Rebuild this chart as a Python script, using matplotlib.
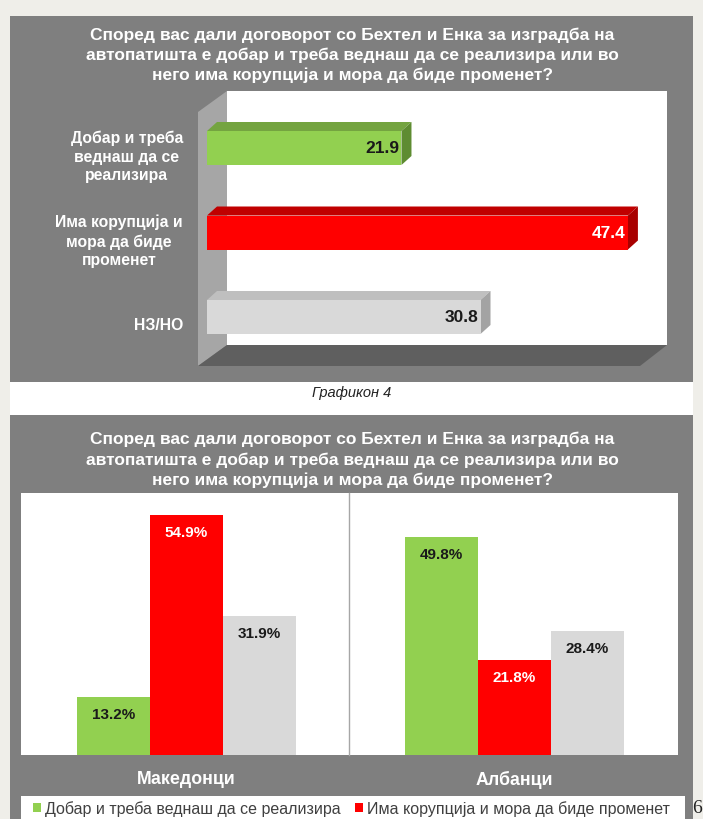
import matplotlib
matplotlib.use('Agg')
import matplotlib.pyplot as plt
from matplotlib.patches import Rectangle, Polygon
import matplotlib.transforms as mtrans

plt.rcParams['font.family'] = ['Liberation Sans', 'DejaVu Sans']

# ---------------- data ----------------
title_lines = ['Според вас дали договорот со Бехтел и Енка за изградба на',
               'автопатишта е добар и треба веднаш да се реализира или во',
               'него има корупција и мора да биде променет?']
top_labels = ['Добар и треба\nведнаш да се\nреализира',
              'Има корупција и\nмора да биде\nпроменет',
              'НЗ/НО']
top_values = [21.9, 47.4, 30.8]

groups = ['Македонци', 'Албанци']
series_names = ['Добар и треба веднаш да се реализира',
                'Има корупција и мора да биде променет',
                'НЗ/НО']
good_vals = [13.2, 49.8]
corrupt_vals = [54.9, 21.8]
dk_vals = [31.9, 28.4]
caption = 'Графикон 4'
page_no = '6'

# ---------------- styles ----------------
W, H = 703, 820
GREEN, RED, LGREY = '#92d050', '#ff0000', '#d9d9d9'
TOPS = ['#74a440', '#c00000', '#bfbfbf']
SIDES = ['#5e8c31', '#a80000', '#a3a3a3']
PANEL = '#7f7f7f'

fig = plt.figure(figsize=(W / 100, H / 100), dpi=100, facecolor='#efeee9')

bg = fig.add_axes([0, 0, 1, 1])
bg.set_xlim(0, W)
bg.set_ylim(H, 0)
bg.axis('off')
bg.add_patch(Rectangle((10, 17), 683, 366, color=PANEL, lw=0))
bg.add_patch(Rectangle((10, 383), 683, 33, color='white', lw=0))
bg.add_patch(Rectangle((10, 416), 683, 404, color=PANEL, lw=0))
# 3D walls for top chart
bg.add_patch(Rectangle((227, 92), 440, 254, color='white', lw=0))
bg.add_patch(Polygon([(198, 113), (227, 92), (227, 346), (198, 367)], color='#a6a6a6', lw=0))
bg.add_patch(Polygon([(198, 367), (227, 346), (667, 346), (640, 367)], color='#5f5f5f', lw=0))
# bottom plot area
bg.add_patch(Rectangle((21, 494), 657, 262, color='white', lw=0))
bg.plot([349, 349], [494, 756], color='#a6a6a6', lw=1)
bg.add_patch(Rectangle((21, 797), 664, 23, color='white', lw=0))

for k, ln in enumerate(title_lines):
    bg.text(352, 35.7 + 19.7 * k, ln, ha='center', va='center', fontsize=12.5,
            weight='bold', color='white')
    bg.text(352, 439.5 + 20.6 * k, ln, ha='center', va='center', fontsize=12.5,
            weight='bold', color='white')
bg.text(352, 393, caption, ha='center', va='center', fontsize=10.5, style='italic', color='#222222')
bg.text(697, 809, page_no, ha='center', va='center', fontsize=14,
        family=['Liberation Serif', 'DejaVu Serif'], color='#222222')

# ---------------- top chart ----------------
pxx = 8.88   # px per unit
pxy = 84.5   # px per category
ax1 = fig.add_axes([207 / W, 1 - 346 / H, (667 - 207) / W, (346 - 92) / H])
ax1.set_xlim(0, (667 - 207) / pxx)
ax1.set_ylim((346 - 149) / pxy, (92 - 149) / pxy)
ax1.axis('off')
bh = 34 / pxy
dx, dy = 10 / pxx, 9 / pxy
fronts = [GREEN, RED, LGREY]
ypos = list(range(len(top_values)))
ax1.barh(ypos, top_values, height=bh, color=fronts, zorder=3)
trans = mtrans.blended_transform_factory(ax1.transAxes, ax1.transData)
for i, v in enumerate(top_values):
    t = i - bh / 2
    b = i + bh / 2
    ax1.add_patch(Polygon([(0, t), (v, t), (v + dx, t - dy), (dx, t - dy)],
                          color=TOPS[i], lw=0, zorder=2, clip_on=False))
    ax1.add_patch(Polygon([(v, t), (v + dx, t - dy), (v + dx, b - dy), (v, b)],
                          color=SIDES[i], lw=0, zorder=2, clip_on=False))
    ax1.annotate(f'{v}', xy=(v, i), xytext=(-1.5, 0), textcoords='offset points',
                 ha='right', va='center', fontsize=12.5, weight='bold',
                 color='white' if i == 1 else '#1a1a1a', zorder=5)
    ax1.text((183 - 207) / 460, i + 8 / pxy, top_labels[i], transform=trans,
             ha='right', va='center', multialignment='center', fontsize=11.3,
             weight='bold', color='white', linespacing=1.3, clip_on=False)

# ---------------- bottom chart ----------------
pxg = 328
pxv = 4.37
ax2 = fig.add_axes([21 / W, 1 - 756 / H, 657 / W, 262 / H])
ax2.set_xlim((21 - 186.5) / pxg, (678 - 186.5) / pxg)
ax2.set_ylim(0, 262 / pxv)
ax2.patch.set_alpha(0)
for s in ax2.spines.values():
    s.set_visible(False)
bw = 73 / pxg
xs = list(range(len(groups)))
series = [good_vals, corrupt_vals, dk_vals]
cols = [GREEN, RED, LGREY]
conts = []
for j, vals in enumerate(series):
    xx = [x + (j - 1) * bw for x in xs]
    c = ax2.bar(xx, vals, width=bw, color=cols[j], label=series_names[j])
    conts.append(c)
    for x, v in zip(xx, vals):
        ax2.annotate(f'{v}%', xy=(x, v), xytext=(0, -17 * 0.72), textcoords='offset points',
                     ha='center', va='center', fontsize=11, weight='bold',
                     color='white' if j == 1 else '#1a1a1a')
ax2.set_yticks([])
ax2.set_xticks(xs)
ax2.set_xticklabels(groups, fontsize=12.8, weight='bold', color='white')
ax2.tick_params(axis='x', length=0, pad=11)

fig.legend(conts[:2], series_names[:2], loc='center left',
           bbox_to_anchor=(33 / W, 1 - 809 / H), ncol=2, frameon=False,
           fontsize=11.5, handlelength=0.5, handleheight=0.5, handletextpad=0.25,
           columnspacing=0.9, labelcolor='#404040', borderpad=0, borderaxespad=0)

fig.savefig('out.png', dpi=100, facecolor=fig.get_facecolor())
